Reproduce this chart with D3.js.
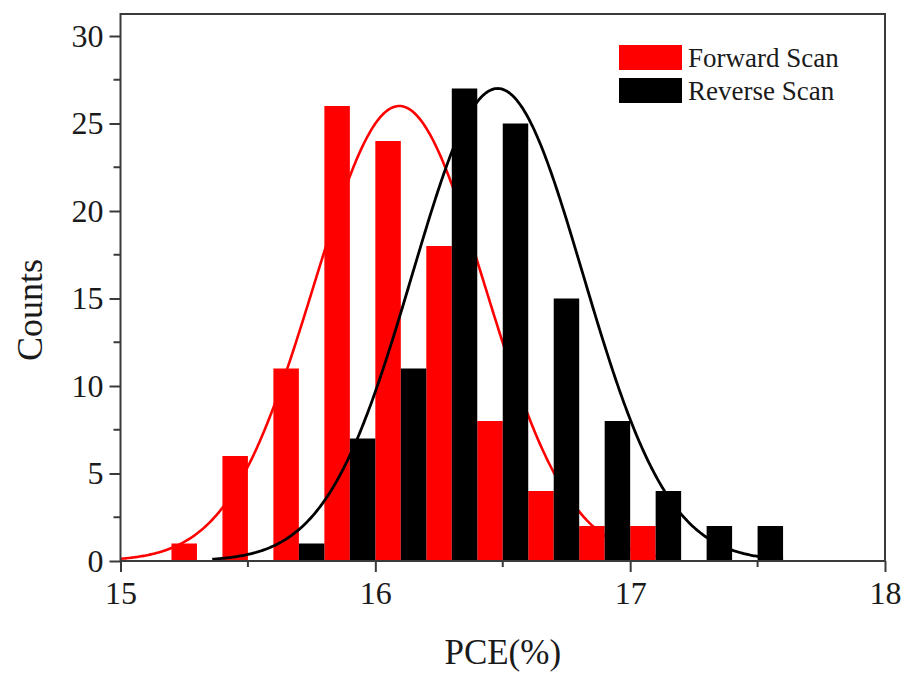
<!DOCTYPE html>
<html>
<head>
<meta charset="utf-8">
<script src="https://cdn.jsdelivr.net/npm/d3@7"></script>
<style>
  html, body { margin: 0; padding: 0; background: #fff; }
  svg { display: block; }
  text { font-family: "Liberation Serif", "Times New Roman", serif; fill: #1a1a1a; }
</style>
</head>
<body>
<svg id="chart" width="906" height="674"></svg>
<script>
// Histogram bins (left edge of each bar, bar width 0.1 %) and counts
const forwardBinStart = [15.2, 15.4, 15.6, 15.8, 16.0, 16.2, 16.4, 16.6, 16.8, 17.0];
const forwardCounts   = [1, 6, 11, 26, 24, 18, 8, 4, 2, 2];
const reverseBinStart = [15.7, 15.9, 16.1, 16.3, 16.5, 16.7, 16.9, 17.1, 17.3, 17.5];
const reverseCounts   = [1, 7, 11, 27, 25, 15, 8, 4, 2, 2];
const barWidth = 0.1;

// Gaussian fits: [centre, sigma, peak height], drawn over [from, to]
const forwardFit = [16.094, 0.335, 26.0];
const forwardFitRange = [15.0, 17.1];
const reverseFit = [16.48, 0.335, 27.0];
const reverseFitRange = [15.36, 17.6];

const xTicks = [15, 16, 17, 18];
const xMinorTicks = [15.5, 16.5, 17.5];
const yTicks = [0, 5, 10, 15, 20, 25, 30];
const yMinorTicks = [2.5, 7.5, 12.5, 17.5, 22.5, 27.5];

const seriesNames = ["Forward Scan", "Reverse Scan"];
const seriesColors = ["#ff0000", "#000000"];

const svg = d3.select("#chart");
const plotLeft = 120.5, plotRight = 885, plotTop = 14, plotBottom = 561;

const x = d3.scaleLinear().domain([15, 18]).range([plotLeft, plotRight]);
const y = d3.scaleLinear().domain([0, 30]).range([plotBottom, 36]);

function fitPoints(p, range) {
  const [mu, s, a] = p;
  return d3.range(range[0], range[1] + 1e-9, 0.005)
    .map(v => [v, a * Math.exp(-((v - mu) ** 2) / (2 * s * s))]);
}

const line = d3.line().x(d => x(d[0])).y(d => y(d[1]));

function drawBars(starts, counts, color) {
  svg.append("g").selectAll("rect")
    .data(starts.map((s, i) => ({ s, c: counts[i] })))
    .join("rect")
    .attr("x", d => x(d.s))
    .attr("width", d => x(d.s + barWidth) - x(d.s))
    .attr("y", d => y(d.c))
    .attr("height", d => y(0) - y(d.c))
    .attr("fill", color);
}

function drawFit(p, range, color, w) {
  svg.append("path")
    .datum(fitPoints(p, range))
    .attr("d", line)
    .attr("fill", "none")
    .attr("stroke", color)
    .attr("stroke-width", w);
}

// Layering: red fit, red bars, black fit, black bars
drawFit(forwardFit, forwardFitRange, seriesColors[0], 2.6);
drawBars(forwardBinStart, forwardCounts, seriesColors[0]);
drawFit(reverseFit, reverseFitRange, seriesColors[1], 2.8);
drawBars(reverseBinStart, reverseCounts, seriesColors[1]);

// Frame
const frameColor = "#3a3a3a";
svg.append("rect")
  .attr("x", plotLeft).attr("y", plotTop)
  .attr("width", plotRight - plotLeft).attr("height", plotBottom - plotTop)
  .attr("fill", "none").attr("stroke", frameColor).attr("stroke-width", 2);

// Bottom axis
const xAxis = d3.axisBottom(x).tickValues(xTicks).tickFormat(d3.format("d"))
  .tickSizeInner(11).tickSizeOuter(0).tickPadding(9);
const gx = svg.append("g").attr("transform", `translate(0,${plotBottom})`).call(xAxis);
gx.select(".domain").remove();
gx.selectAll(".tick line").attr("stroke", frameColor).attr("stroke-width", 2);
gx.selectAll(".tick text").attr("font-size", 32).attr("fill", "#1a1a1a")
  .attr("font-family", "Liberation Serif, Times New Roman, serif");
svg.append("g").selectAll("line").data(xMinorTicks).join("line")
  .attr("x1", d => x(d)).attr("x2", d => x(d))
  .attr("y1", plotBottom).attr("y2", plotBottom + 6)
  .attr("stroke", frameColor).attr("stroke-width", 2);

// Left axis
const yAxis = d3.axisLeft(y).tickValues(yTicks).tickFormat(d3.format("d"))
  .tickSizeInner(11).tickSizeOuter(0).tickPadding(6);
const gy = svg.append("g").attr("transform", `translate(${plotLeft},0)`).call(yAxis);
gy.select(".domain").remove();
gy.selectAll(".tick line").attr("stroke", frameColor).attr("stroke-width", 2);
gy.selectAll(".tick text").attr("font-size", 32).attr("fill", "#1a1a1a")
  .attr("font-family", "Liberation Serif, Times New Roman, serif");
svg.append("g").selectAll("line").data(yMinorTicks).join("line")
  .attr("x1", plotLeft - 7).attr("x2", plotLeft)
  .attr("y1", d => y(d)).attr("y2", d => y(d))
  .attr("stroke", frameColor).attr("stroke-width", 2);

// Axis titles
svg.append("text")
  .attr("x", (plotLeft + plotRight) / 2).attr("y", 664)
  .attr("text-anchor", "middle").attr("font-size", 35)
  .text("PCE(%)");
svg.append("text")
  .attr("transform", "translate(42,310) rotate(-90)")
  .attr("text-anchor", "middle").attr("font-size", 36)
  .text("Counts");

// Legend
const legend = svg.append("g");
seriesNames.forEach((name, i) => {
  const yy = 45 + i * 33;
  legend.append("rect").attr("x", 619).attr("y", yy).attr("width", 63).attr("height", 25)
    .attr("fill", seriesColors[i]);
  legend.append("text").attr("x", 688).attr("y", yy + 21.5)
    .attr("font-size", 27).text(name);
});
</script>
</body>
</html>
